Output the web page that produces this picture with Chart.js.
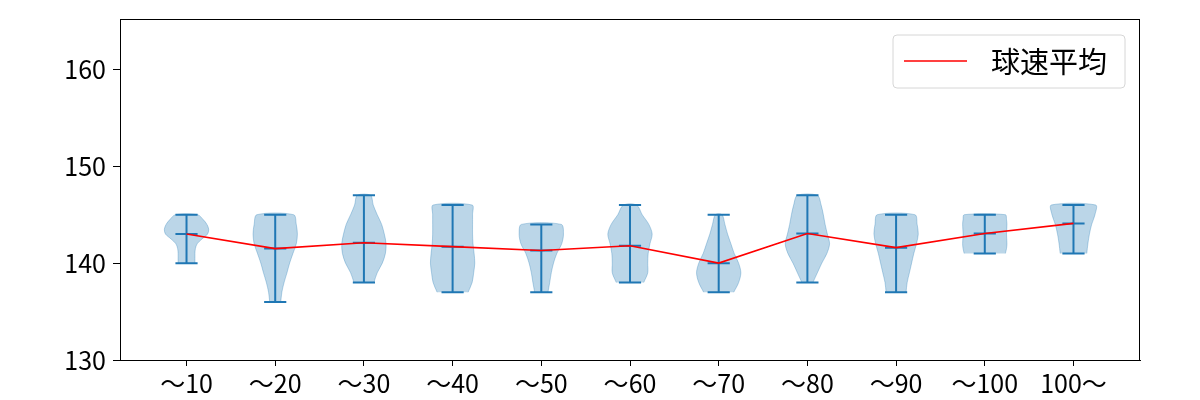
<!DOCTYPE html>
<html lang="ja">
<head>
<meta charset="UTF-8">
<title>球速平均</title>
<script src="https://cdn.jsdelivr.net/npm/chart.js@4.4.1/dist/chart.umd.min.js"></script>
<style>
  body { margin: 0; background: #ffffff; }
  #wrap { width: 1200px; height: 400px; }
</style>
</head>
<body>
<div id="wrap"><canvas id="chart"></canvas></div>
<script>
const categories = ['～10', '～20', '～30', '～40', '～50', '～60', '～70', '～80', '～90', '～100', '100～'];
const speedMin = [140, 136, 138, 137, 137, 138, 137, 138, 137, 141, 141];
const speedMax = [145, 145, 147, 146, 144, 146, 145, 147, 145, 145, 146];
const speedMean = [143.0, 141.5, 142.1, 141.7, 141.3, 141.8, 140.0, 143.05, 141.6, 143.05, 144.1];
const yTicks = [130, 140, 150, 160];

// violin outline: [speed, relative half width]
const violinShapes = [
  [[140, .38], [140.5, .38], [141, .38], [141.5, .4], [142, .48], [142.5, .7], [143, .95], [143.5, 1], [144, .92], [144.5, .75], [145, .5]],
  [[136, .25], [137, .3], [138, .4], [139, .53], [140, .65], [141, .8], [142, .95], [143, 1], [144, .95], [145, .83]],
  [[138, .45], [139, .6], [140, .83], [141, .97], [142, 1], [143, .92], [144, .8], [145, .6], [146, .42], [147, .3]],
  [[137, .7], [138, .88], [139, .95], [140, 1], [141, .97], [142, .92], [143, .9], [144, .9], [145, .9], [146, .88]],
  [[137, .3], [138, .38], [139, .45], [140, .55], [141, .7], [142, .92], [143, 1], [144, .9]],
  [[138, .62], [139, .8], [140, .8], [141, .82], [142, .9], [143, 1], [144, .85], [145, .55], [146, .3]],
  [[137, .68], [138, .9], [139, 1], [140, .9], [141, .7], [142, .55], [143, .4], [144, .28], [145, .15]],
  [[138, .25], [139, .45], [140, .65], [141, .88], [142, 1], [143, .9], [144, .8], [145, .72], [146, .62], [147, .45]],
  [[137, .45], [138, .5], [139, .6], [140, .7], [141, .8], [142, .92], [143, 1], [144, .95], [145, .85]],
  [[141, .93], [141.5, .98], [142, 1], [143, .98], [144, 1], [144.5, .98], [145, .93]],
  [[141, .6], [142, .65], [143, .72], [144, .82], [145, .97], [146, 1]]
];

const HALF = 0.25;   // violin half width (x units)
const CAP = 0.125;   // min/max/mean cap half length
const blue = '#1f77b4';

const datasets = [];

violinShapes.forEach((shape, i) => {
  const x = i + 1;
  const right = shape.map(p => ({ x: x + HALF * p[1], y: p[0] }));
  const left = shape.slice().reverse().map(p => ({ x: x - HALF * p[1], y: p[0] }));
  datasets.push({
    label: 'violin' + i,
    data: right.concat(left),
    showLine: true,
    fill: 'shape',
    backgroundColor: 'rgba(31,119,180,0.3)',
    borderColor: 'rgba(31,119,180,0.3)',
    borderWidth: 1,
    tension: 0.3,
    pointRadius: 0,
    order: 3
  });
});

// min, max, mean caps and the vertical range line
const statPts = [];
categories.forEach((c, i) => {
  const x = i + 1;
  [speedMin[i], speedMax[i], speedMean[i]].forEach(v => {
    statPts.push({ x: x - CAP, y: v }, { x: x + CAP, y: v }, { x: x, y: null });
  });
  statPts.push({ x: x, y: speedMin[i] }, { x: x, y: speedMax[i] }, { x: x, y: null });
});
datasets.push({
  label: 'stats',
  data: statPts,
  showLine: true,
  spanGaps: false,
  borderColor: blue,
  borderWidth: 2,
  pointRadius: 0,
  fill: false,
  order: 2
});

datasets.push({
  label: '球速平均',
  data: speedMean.map((v, i) => ({ x: i + 1, y: v })),
  showLine: true,
  borderColor: '#ff0000',
  borderWidth: 1.6,
  pointRadius: 0,
  fill: false,
  order: 1
});

const framePlugin = {
  id: 'frameAndLegend',
  afterDraw(chart) {
    const ctx = chart.ctx;
    const a = chart.chartArea;
    ctx.save();
    ctx.strokeStyle = '#000000';
    ctx.lineWidth = 1;
    ctx.strokeRect(a.left + 0.5, a.top + 0.5, a.right - a.left - 1, a.bottom - a.top);

    // legend box, top right inside the plot
    const bx = 893, by = 35, bw = 232, bh = 53, r = 4;
    ctx.beginPath();
    ctx.moveTo(bx + r, by);
    ctx.arcTo(bx + bw, by, bx + bw, by + bh, r);
    ctx.arcTo(bx + bw, by + bh, bx, by + bh, r);
    ctx.arcTo(bx, by + bh, bx, by, r);
    ctx.arcTo(bx, by, bx + bw, by, r);
    ctx.closePath();
    ctx.fillStyle = 'rgba(255,255,255,0.8)';
    ctx.fill();
    ctx.strokeStyle = '#d6d6d6';
    ctx.stroke();

    const ds = chart.data.datasets[chart.data.datasets.length - 1];
    ctx.beginPath();
    ctx.moveTo(904, 61);
    ctx.lineTo(967, 61);
    ctx.strokeStyle = ds.borderColor;
    ctx.lineWidth = 1.6;
    ctx.stroke();
    ctx.fillStyle = '#000000';
    ctx.font = '29px "Noto Sans CJK JP"';
    ctx.textBaseline = 'middle';
    ctx.textAlign = 'left';
    ctx.fillText(ds.label, 991, 62);
    ctx.restore();
  }
};

const tickFont = { family: '"Noto Sans CJK JP"', size: 25 };

new Chart(document.getElementById('chart'), {
  type: 'scatter',
  data: { datasets: datasets },
  options: {
    responsive: true,
    maintainAspectRatio: false,
    animation: false,
    events: [],
    layout: { padding: { left: 0, right: 60, top: 19, bottom: 0 } },
    plugins: {
      legend: { display: false },
      tooltip: { enabled: false }
    },
    scales: {
      x: {
        type: 'linear',
        min: 0.25,
        max: 11.75,
        afterBuildTicks: s => { s.ticks = categories.map((c, i) => ({ value: i + 1 })); },
        afterFit: s => { s.height = 40; s.paddingLeft = 0; s.paddingRight = 0; },
        ticks: {
          callback: v => categories[v - 1],
          color: '#000000',
          font: tickFont,
          padding: 2,
          maxRotation: 0,
          autoSkip: false
        },
        grid: { drawOnChartArea: false, drawTicks: true, tickLength: 6, color: '#000000' },
        border: { display: true, color: '#000000', width: 1 }
      },
      y: {
        min: 130,
        max: 165.2,
        afterBuildTicks: s => { s.ticks = yTicks.map(v => ({ value: v })); },
        afterFit: s => { s.width = 120; s.paddingTop = 0; s.paddingBottom = 0; },
        ticks: {
          color: '#000000',
          font: tickFont,
          padding: 7
        },
        grid: { drawOnChartArea: false, drawTicks: true, tickLength: 7, color: '#000000' },
        border: { display: true, color: '#000000', width: 1 }
      }
    }
  },
  plugins: [framePlugin]
});
</script>
</body>
</html>
